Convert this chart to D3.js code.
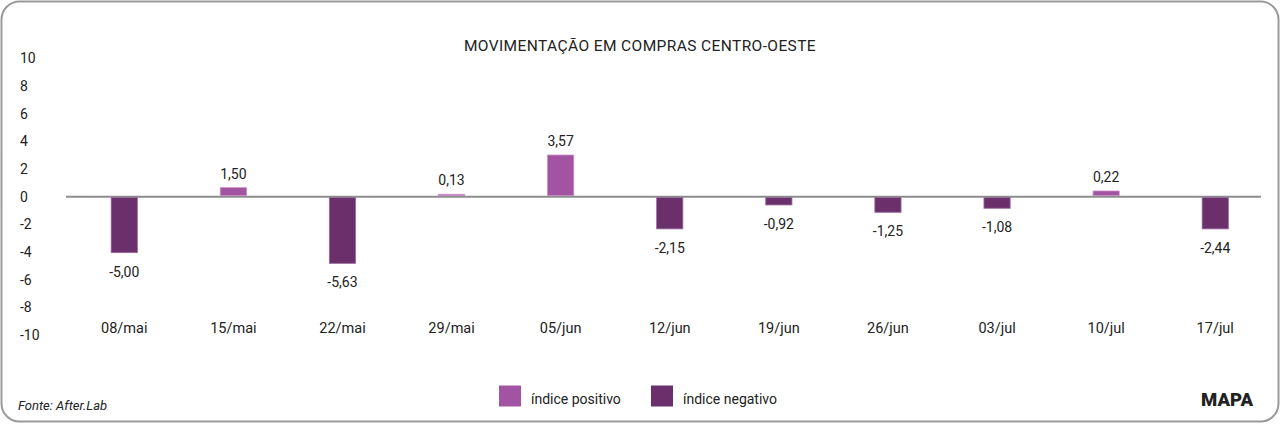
<!DOCTYPE html>
<html>
<head>
<meta charset="utf-8">
<script src="https://cdn.jsdelivr.net/npm/d3@7"></script>
<style>
  html, body { margin: 0; padding: 0; background: #fff; }
  svg { display: block; }
  text { font-family: Roboto, "Noto Sans", sans-serif; fill: #222; }
</style>
</head>
<body>
<svg id="chart" width="1280" height="424"></svg>
<script>
// ---- data ----
const categories = ["08/mai", "15/mai", "22/mai", "29/mai", "05/jun", "12/jun", "19/jun", "26/jun", "03/jul", "10/jul", "17/jul"];
// bar heights as drawn in the reference
const barValues = [-4.05, 0.65, -4.82, 0.17, 3.01, -2.33, -0.60, -1.13, -0.84, 0.41, -2.33];
// value labels printed on the reference
const valueLabels = ["-5,00", "1,50", "-5,63", "0,13", "3,57", "-2,15", "-0,92", "-1,25", "-1,08", "0,22", "-2,44"];
const yTicks = [10, 8, 6, 4, 2, 0, -2, -4, -6, -8, -10];
const legendLabels = ["índice positivo", "índice negativo"];
const title = "MOVIMENTAÇÃO EM COMPRAS CENTRO-OESTE";
const source = "Fonte: After.Lab";

const colPos = "#a253a2";
const colNeg = "#6b306b";

const svg = d3.select("#chart");

// frame
svg.append("rect")
  .attr("x", 1.5).attr("y", 1.5).attr("width", 1277).attr("height", 420)
  .attr("rx", 18).attr("ry", 18)
  .attr("fill", "#fff").attr("stroke", "#9a9a9a").attr("stroke-width", 2);

// title
svg.append("text")
  .attr("x", 640).attr("y", 50.5)
  .attr("text-anchor", "middle")
  .attr("font-size", 15.5)
  .attr("letter-spacing", 0.4)
  .text(title);

// scales
const y = d3.scaleLinear().domain([-10, 10]).range([335, 58.3]);
const x = d3.scaleBand().domain(categories).range([69.7, 1269.8]).paddingInner(0.76).paddingOuter(0.38);

// y tick labels (left aligned)
const yAxis = d3.axisLeft(y).tickValues(yTicks).tickSize(0).tickFormat(d => d);
const gy = svg.append("g").attr("transform", "translate(20,0)").call(yAxis);
gy.select(".domain").remove();
gy.selectAll("text")
  .attr("x", 0).attr("text-anchor", "start")
  .attr("font-family", "Roboto, sans-serif")
  .attr("font-size", 14).attr("fill", "#222");

// zero line
svg.append("line")
  .attr("x1", 66).attr("x2", 1261)
  .attr("y1", y(0)).attr("y2", y(0))
  .attr("stroke", "#8c8c8c").attr("stroke-width", 2);

// bars
const data = categories.map((c, i) => ({ c, v: barValues[i], label: valueLabels[i] }));
svg.append("g").selectAll("rect").data(data).join("rect")
  .attr("x", d => x(d.c))
  .attr("width", x.bandwidth())
  .attr("y", d => d.v >= 0 ? y(d.v) : y(0) + 1)
  .attr("height", d => d.v >= 0 ? y(0) - 1 - y(d.v) : y(d.v) - y(0) - 1)
  .attr("fill", d => d.v >= 0 ? colPos : colNeg)
  .attr("stroke", d => d.v >= 0 ? "#c98ec9" : "#94689a")
  .attr("stroke-width", 0.8);

// value labels
svg.append("g").selectAll("text").data(data).join("text")
  .attr("x", d => x(d.c) + x.bandwidth() / 2)
  .attr("y", d => d.v >= 0 ? y(d.v) - 9 : y(d.v) + 24)
  .attr("text-anchor", "middle")
  .attr("font-size", 14)
  .text(d => d.label);

// x category labels
const xAxis = d3.axisBottom(x).tickSize(0);
const gx = svg.append("g").attr("transform", "translate(0,320)").call(xAxis);
gx.select(".domain").remove();
gx.selectAll("text")
  .attr("y", 0).attr("dy", "0.9em")
  .attr("font-family", "Roboto, sans-serif")
  .attr("font-size", 14.5).attr("fill", "#222");

// legend
const legend = svg.append("g");
const legX = [499, 651];
const legCols = [colPos, colNeg];
legendLabels.forEach((lab, i) => {
  legend.append("rect")
    .attr("x", legX[i]).attr("y", 385.5).attr("width", 22).attr("height", 21)
    .attr("fill", legCols[i]);
  legend.append("text")
    .attr("x", legX[i] + 32).attr("y", 404)
    .attr("font-size", 14)
    .text(lab);
});

// source
svg.append("text")
  .attr("x", 18).attr("y", 410)
  .attr("font-size", 13)
  .attr("font-style", "italic")
  .text(source);

// logo
svg.append("text")
  .attr("x", 1201).attr("y", 405.5)
  .attr("font-size", 18.5)
  .attr("font-weight", 900)
  .attr("fill", "#111")
  .text("MAPA");
</script>
</body>
</html>
